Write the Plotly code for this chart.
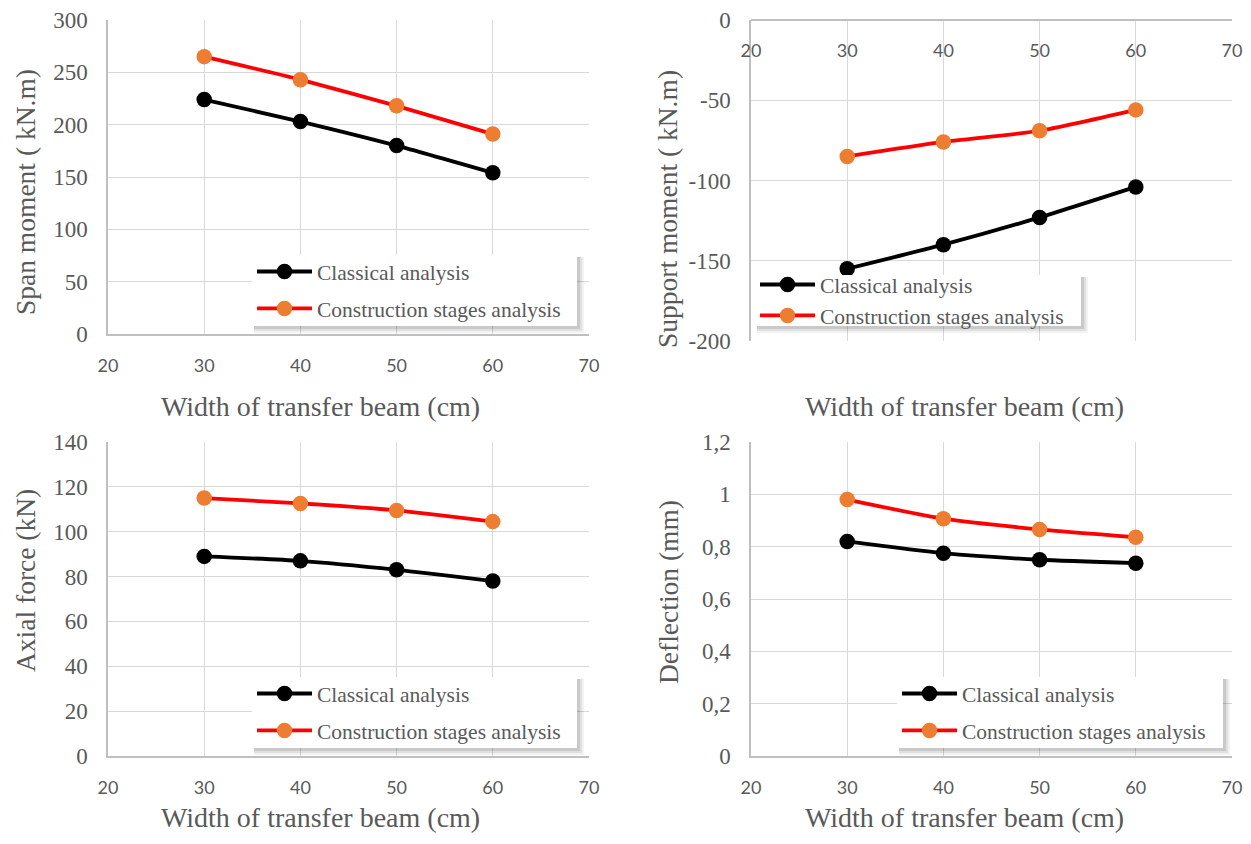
import plotly.graph_objects as go

# ---------------- data ----------------
width_cm = [30, 40, 50, 60]

span_classical = [224, 203, 180, 154]
span_construction = [265, 243, 218, 191]

support_classical = [-155, -140, -123, -104]
support_construction = [-85, -76, -69, -56]

axial_classical = [89, 87, 83, 78]
axial_construction = [115, 112.6, 109.5, 104.5]

deflection_classical = [0.82, 0.775, 0.75, 0.737]
deflection_construction = [0.98, 0.907, 0.866, 0.836]

series_names = ["Classical analysis", "Construction stages analysis"]
x_title = "Width of transfer beam (cm)"
y_titles = ["Span moment ( kN.m)", "Support moment ( kN.m)", "Axial force (kN)", "Deflection (mm)"]

support_tick_values = [0, -50, -100, -150, -200]
support_tick_labels = ["0", "-50", "-100", "-150", "-200"]

# ---------------- layout geometry (page pixels) ----------------
PAGE_W, PAGE_H = 1251, 844
OFF = 8  # default body margin of the html page
W, H = PAGE_W - 2 * OFF, PAGE_H - 2 * OFF
SERIF = "Liberation Serif"
SANS = "Lato"
GRAY = "#595959"
GRID = "#D9D9D9"
AXLINE = "#BFBFBF"

def px_x(p):
    return (p - OFF) / W

def px_y(p):
    return 1 - (p - OFF) / H

panels = [
    dict(x0=108, x1=589, y0=20, y1=334, yr=[0, 300], dt=50,
         ys=(span_classical, span_construction), leg=(252, 251), gap=6,
         box=(252, 255, 577, 326), ytx=25, yty=192, xtx=320, xty=406),
    dict(x0=751, x1=1232, y0=20, y1=341, yr=[-200, 0], dt=50,
         ys=(support_classical, support_construction), leg=(755, 264), gap=0,
         box=(755, 275, 1081, 326), ytx=668, yty=209, xtx=964, xty=406),
    dict(x0=108, x1=589, y0=442, y1=756, yr=[0, 140], dt=20,
         ys=(axial_classical, axial_construction), leg=(252, 673), gap=6,
         box=(252, 677, 577, 748), ytx=25, yty=581, xtx=320, xty=817),
    dict(x0=751, x1=1232, y0=442, y1=756, yr=[0, 1.2], dt=0.2,
         ys=(deflection_classical, deflection_construction), leg=(897, 673), gap=6,
         box=(897, 677, 1223, 748), ytx=668, yty=592, xtx=964, xty=817),
]

fig = go.Figure()
layout = dict(
    width=W, height=H,
    margin=dict(l=0, r=0, t=0, b=0, autoexpand=False),
    paper_bgcolor="white", plot_bgcolor="white",
    separators=",.",
    annotations=[], shapes=[],
)

line_colors = ["#000000", "#FF0000"]
marker_colors = ["#000000", "#ED7D31"]

for i, p in enumerate(panels):
    n = "" if i == 0 else str(i + 1)
    legname = "legend" + n
    xa = "xaxis" + n
    ya = "yaxis" + n

    for k in range(2):
        fig.add_trace(go.Scatter(
            x=width_cm, y=p["ys"][k], name=series_names[k],
            mode="lines+markers",
            line=dict(color=line_colors[k], width=3.8, shape="spline", smoothing=0.6),
            marker=dict(color=marker_colors[k], size=15.5),
            xaxis="x" + n, yaxis="y" + n,
            legend=legname, legendgroup=f"g{i}_{k}",
        ))

    top_axis = (i == 1)
    layout[xa] = dict(
        domain=[px_x(p["x0"]), px_x(p["x1"])],
        range=[20, 70], dtick=10, tick0=20,
        showgrid=True, gridcolor=GRID, gridwidth=1.3,
        showline=True, linecolor=AXLINE, linewidth=1.5,
        zeroline=False, ticks="", automargin=False,
        tickfont=dict(family=SANS, size=18, color=GRAY),
        ticklabelstandoff=15,
        fixedrange=True,
    )
    if top_axis:
        layout[xa].update(anchor="free", position=px_y(p["y0"]), side="bottom")
    else:
        layout[xa].update(anchor="y" + n)

    layout[ya] = dict(
        domain=[px_y(p["y1"]), px_y(p["y0"])],
        range=p["yr"], dtick=p["dt"],
        showgrid=True, gridcolor=GRID, gridwidth=1.3,
        showline=True, linecolor=AXLINE, linewidth=1.5,
        zeroline=False, ticks="", automargin=False,
        tickfont=dict(family=SERIF, size=23, color=GRAY),
        ticklabelstandoff=14,
        anchor="x" + n,
        fixedrange=True,
    )
    if i == 1:
        layout[ya].update(tickmode="array", tickvals=support_tick_values,
                          ticktext=support_tick_labels)

    # legend box with soft shadow (drawn as shapes beneath the transparent legend)
    bx0, by0, bx1, by1 = p["box"]
    for d, a in [(7, 0.05), (5, 0.07), (3, 0.10)]:
        layout["shapes"].append(dict(
            type="rect", xref="paper", yref="paper", layer="above",
            x0=px_x(bx0 + 2), x1=px_x(bx1 + d), y0=px_y(by0 + 2), y1=px_y(by1 + d),
            fillcolor=f"rgba(0,0,0,{a})", line=dict(width=0),
        ))
    layout["shapes"].append(dict(
        type="rect", xref="paper", yref="paper", layer="above",
        x0=px_x(bx0), x1=px_x(bx1), y0=px_y(by0), y1=px_y(by1),
        fillcolor="white", line=dict(width=0),
    ))

    lx, ly = p["leg"]
    layout[legname] = dict(
        x=px_x(lx), y=px_y(ly), xanchor="left", yanchor="top",
        xref="paper", yref="paper",
        bgcolor="rgba(0,0,0,0)", borderwidth=0,
        font=dict(family=SERIF, size=21.5, color=GRAY),
        tracegroupgap=p["gap"], traceorder="grouped",
        itemwidth=55,
    )

    layout["annotations"].append(dict(
        text=y_titles[i], x=px_x(p["ytx"]), y=px_y(p["yty"]),
        xref="paper", yref="paper", showarrow=False, textangle=-90,
        xanchor="center", yanchor="middle",
        font=dict(family=SERIF, size=27.5, color=GRAY),
    ))
    layout["annotations"].append(dict(
        text=x_title, x=px_x(p["xtx"]), y=px_y(p["xty"]),
        xref="paper", yref="paper", showarrow=False,
        xanchor="center", yanchor="middle",
        font=dict(family=SERIF, size=28, color=GRAY),
    ))

fig.update_layout(**layout)
fig.write_html("out.html")
